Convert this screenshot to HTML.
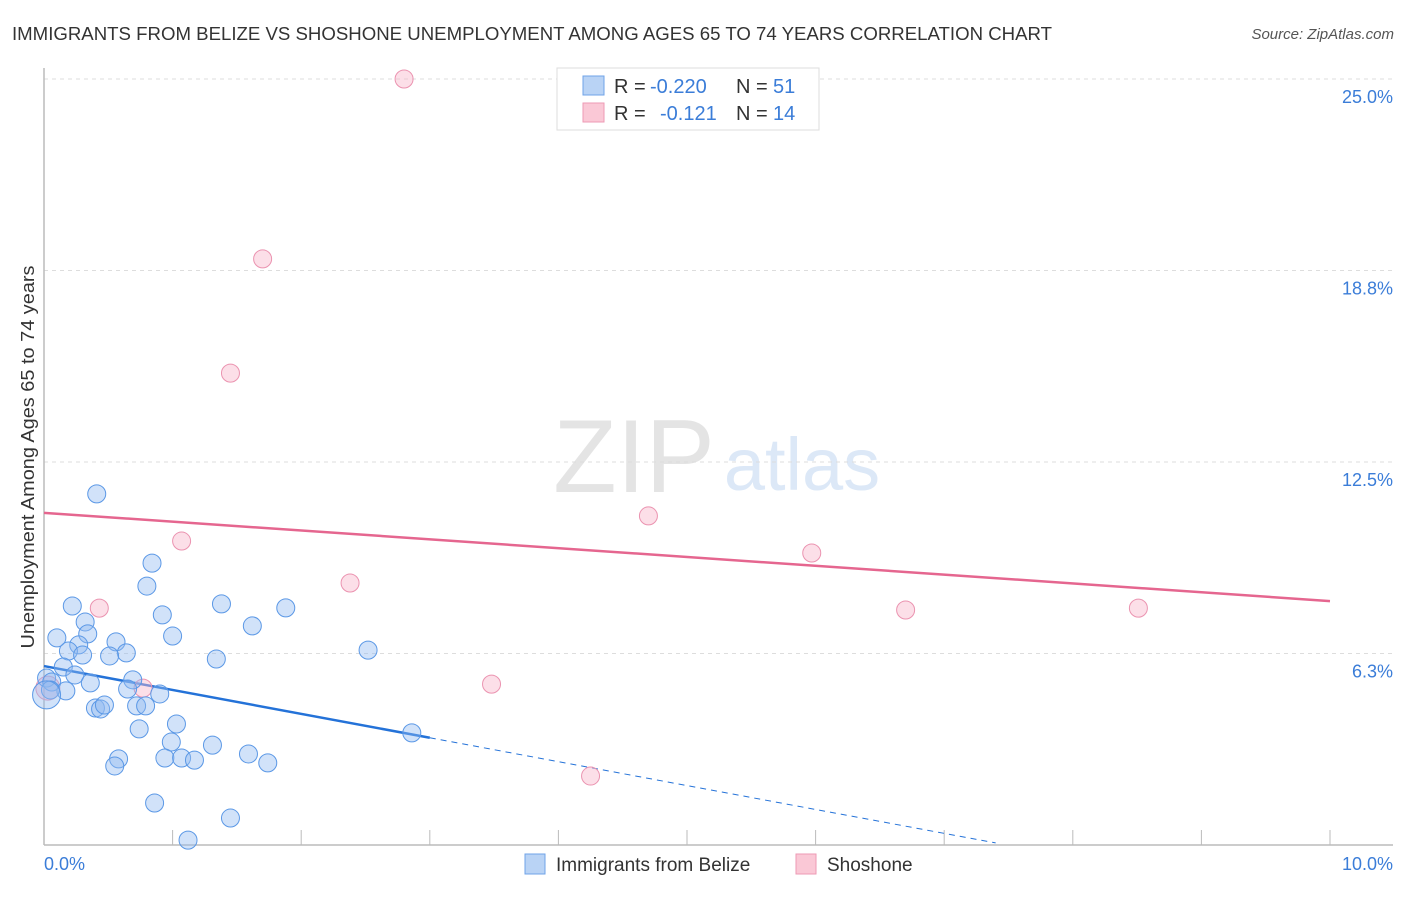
<!DOCTYPE html>
<html><head><meta charset="utf-8"><style>
body{margin:0;background:#fff;font-family:"Liberation Sans",sans-serif;}
svg text{font-family:"Liberation Sans",sans-serif;}
</style></head><body>
<svg id="chart" width="1406" height="892" xmlns="http://www.w3.org/2000/svg">
<text x="12" y="40" font-size="18" fill="#333" textLength="1040" lengthAdjust="spacingAndGlyphs">IMMIGRANTS FROM BELIZE VS SHOSHONE UNEMPLOYMENT AMONG AGES 65 TO 74 YEARS CORRELATION CHART</text>
<text x="1394" y="39" font-size="15" fill="#555" text-anchor="end" font-style="italic">Source: ZipAtlas.com</text>
<text x="634" y="492" font-size="104" fill="#e4e4e4" text-anchor="middle" font-family="Liberation Serif">ZIP</text>
<text x="802" y="490" font-size="74" fill="#dce8f7" text-anchor="middle">atlas</text>
<text transform="translate(34,457) rotate(-90)" font-size="18" fill="#333" text-anchor="middle" textLength="383" lengthAdjust="spacingAndGlyphs">Unemployment Among Ages 65 to 74 years</text>
<g id="grid"></g><g id="axes"></g><g id="lines"></g><g id="points"></g>
<g>
<rect x="557" y="68" width="262" height="62" fill="#fff" stroke="#ddd"/>
<rect x="583" y="76" width="21" height="19" fill="#b9d3f5" stroke="#6fa3e8"/>
<rect x="583" y="103" width="21" height="19" fill="#fac8d6" stroke="#ee9ab4"/>
<text x="614" y="93" font-size="20" fill="#333">R =</text>
<text x="650" y="93" font-size="20" fill="#3b7dd8">-0.220</text>
<text x="736" y="93" font-size="20" fill="#333">N =</text>
<text x="773" y="93" font-size="20" fill="#3b7dd8">51</text>
<text x="614" y="120" font-size="20" fill="#333">R =</text>
<text x="660" y="120" font-size="20" fill="#3b7dd8">-0.121</text>
<text x="736" y="120" font-size="20" fill="#333">N =</text>
<text x="773" y="120" font-size="20" fill="#3b7dd8">14</text>
</g>
<g>
<rect x="525" y="854" width="20" height="20" fill="#b9d3f5" stroke="#6fa3e8"/>
<text x="556" y="871" font-size="19" fill="#333">Immigrants from Belize</text>
<rect x="796" y="854" width="20" height="20" fill="#fac8d6" stroke="#ee9ab4"/>
<text x="827" y="871" font-size="19" fill="#333">Shoshone</text>
</g>
</svg>
<script>
const yTicks=[6.25,12.5,18.75,25];
const yTickLabels=["6.3%","12.5%","18.8%","25.0%"];
const xTickLabels=["0.0%","10.0%"];
const blueX=[0.41,0.84,0.80,0.22,1.38,0.92,1.88,1.62,0.32,0.34,0.10,1.00,0.56,0.27,0.19,0.30,0.64,0.51,1.34,2.52,0.15,0.24,0.02,0.06,0.69,0.36,0.65,0.17,0.90,0.05,0.02,0.40,0.44,0.47,0.72,0.79,1.03,0.74,2.86,0.99,1.31,1.59,0.58,0.94,1.07,1.17,1.74,0.55,0.86,1.45,1.12];
const blueY=[11.46,9.20,8.45,7.80,7.87,7.51,7.74,7.15,7.28,6.89,6.76,6.82,6.63,6.53,6.33,6.20,6.27,6.17,6.07,6.36,5.81,5.55,5.45,5.32,5.39,5.29,5.09,5.03,4.93,5.06,4.90,4.47,4.44,4.57,4.54,4.54,3.95,3.79,3.66,3.36,3.26,2.97,2.81,2.84,2.84,2.77,2.68,2.58,1.37,0.88,0.16];
const blueBig=[30];
const pinkX=[2.80,1.70,1.45,1.07,4.70,5.97,2.38,0.43,6.70,8.51,3.48,0.77,4.25,0.03];
const pinkY=[25.0,19.13,15.40,9.92,10.74,9.53,8.55,7.73,7.67,7.73,5.25,5.12,2.25,5.12];
const pinkBig=[13];
const blueTrend=[5.84,-0.78];
const pinkTrend=[10.84,-0.288];
const NS="http://www.w3.org/2000/svg";
const X0=44,X1=1330,Y0=845,Y25=79;
const sx=v=>X0+(X1-X0)*v/10;
const sy=v=>Y0-(Y0-Y25)*v/25;
function mk(tag,attrs,parent){const e=document.createElementNS(NS,tag);for(const k in attrs)e.setAttribute(k,attrs[k]);document.getElementById(parent).appendChild(e);return e;}
yTicks.forEach((t,i)=>{
 const l=mk('line',{x1:X0,x2:1393,y1:sy(t),y2:sy(t),stroke:'#ddd','stroke-dasharray':'4,4'},'grid');
 
 
 const tx=mk('text',{x:1393,y:sy(t)+24,'font-size':18,fill:'#3b7dd8','text-anchor':'end'},'grid');
 tx.textContent=yTickLabels[i];
 
 
});
const ax=mk('line',{x1:X0,x2:1393,y1:Y0,y2:Y0,stroke:'#bbb','stroke-width':1.5},'axes');


const ay=mk('line',{x1:X0,x2:X0,y1:68,y2:Y0,stroke:'#bbb','stroke-width':1.5},'axes');


for(let i=1;i<=10;i++){
 const t=mk('line',{x1:sx(i),x2:sx(i),y1:Y0-15,y2:Y0,stroke:'#bbb'},'axes');
 
 
}
[[0,'start',X0],[10,'end',1393]].forEach((d,i)=>{
 const t=mk('text',{x:d[2],y:870,'font-size':18,fill:'#3b7dd8','text-anchor':d[1]},'axes');
 t.textContent=xTickLabels[i];
 
 
});
function dot(x,y,r,fill,stroke,name){
 const c=mk('circle',{cx:sx(x),cy:sy(y),r:r,fill:fill,stroke:stroke,'stroke-width':1},'points');
 
 
}
pinkX.forEach((x,i)=>dot(x,pinkY[i],pinkBig.includes(i)?12:9,'rgba(248,185,205,0.45)','#eb93b0','shoshone-point'));
blueX.forEach((x,i)=>dot(x,blueY[i],blueBig.includes(i)?14:9,'rgba(145,185,240,0.42)','#5b98e6','belize-point'));
const bl=mk('line',{x1:sx(0),y1:sy(blueTrend[0]),x2:sx(3),y2:sy(blueTrend[0]+3*blueTrend[1]),stroke:'#2472d8','stroke-width':2.5},'lines');


const bd=mk('line',{x1:sx(3),y1:sy(blueTrend[0]+3*blueTrend[1]),x2:sx(7.4),y2:sy(blueTrend[0]+7.4*blueTrend[1]),stroke:'#2472d8','stroke-width':1,'stroke-dasharray':'6,5'},'lines');


const pl=mk('line',{x1:sx(0),y1:sy(pinkTrend[0]),x2:sx(10),y2:sy(pinkTrend[0]+10*pinkTrend[1]),stroke:'#e5668f','stroke-width':2.5},'lines');


</script>
</body></html>
